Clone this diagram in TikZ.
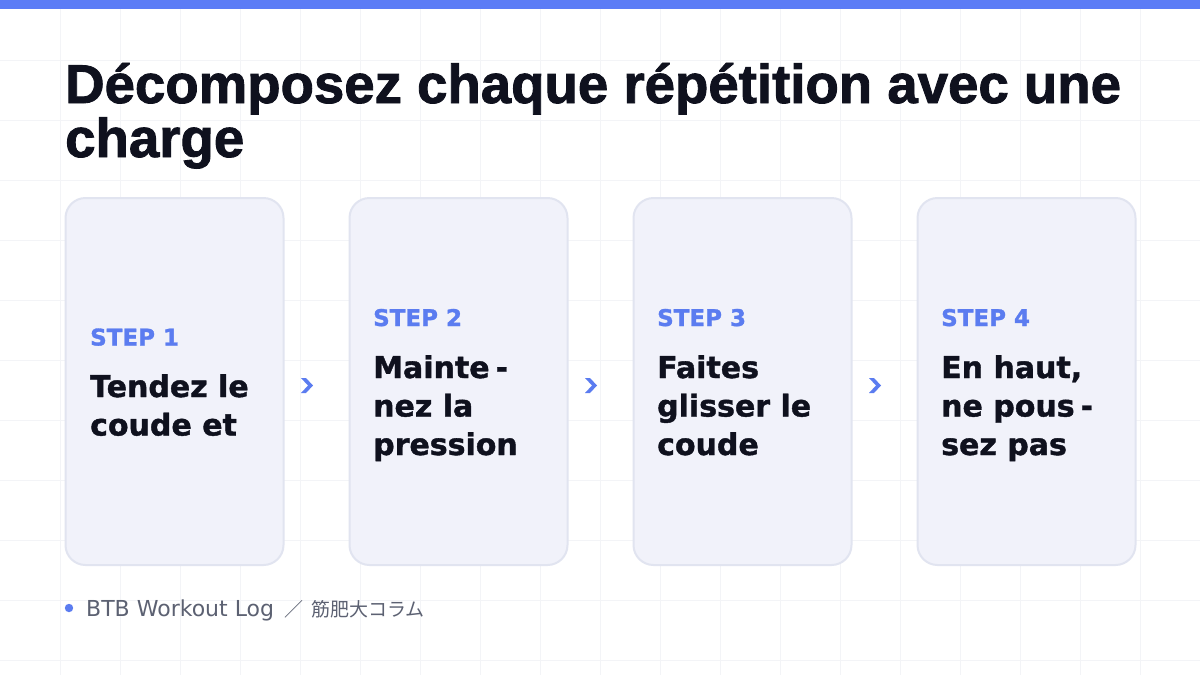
\documentclass[tikz,border=0pt]{standalone}
\usepackage{fontspec}
\setmainfont{DejaVu Sans}
\newfontfamily\titlefont{Liberation Sans}[BoldFeatures={FakeBold=1.6}]
\newfontfamily\bodyfont{DejaVu Sans}[BoldFeatures={FakeBold=1.3}]
\newfontfamily\cjk{Noto Sans CJK JP}
\definecolor{topbar}{HTML}{5B7CF6}
\definecolor{gridc}{HTML}{F3F4F7}
\definecolor{cardfill}{HTML}{F1F2FA}
\definecolor{cardline}{HTML}{E1E4F0}
\definecolor{stepblue}{HTML}{5B7CF0}
\definecolor{ink}{HTML}{0F111E}
\definecolor{footgray}{HTML}{5C6172}
\tikzset{
  gridline/.style={draw=gridc, line width=1pt},
  card/.style={draw=cardline, line width=2pt, fill=cardfill, rounded corners=20pt,
    minimum width=218pt, minimum height=367pt, inner sep=0pt},
  steplabel/.style={anchor=base west, inner sep=0pt, text=stepblue,
    font=\bodyfont\bfseries\fontsize{23}{27}\selectfont},
  bodyline/.style={anchor=base west, inner sep=0pt, text=ink,
    font=\bodyfont\bfseries\fontsize{30}{36}\selectfont},
  titleline/.style={anchor=base west, inner sep=0pt, text=ink,
    font=\titlefont\bfseries\fontsize{54.6}{60}\selectfont},
  chevfill/.style={fill=stepblue, line join=round},
  foot/.style={anchor=base west, inner sep=0pt, text=footgray, font=\fontsize{22}{26}\selectfont},
}
\begin{document}
\begin{tikzpicture}[x=1pt,y=-1pt]
\useasboundingbox (0,0) rectangle (1200,675);
\fill[white] (0,0) rectangle (1200,675);
\foreach \gx in {60,120,...,1140} \draw[gridline] (\gx,0) -- (\gx,675);
\foreach \gy in {60,120,...,660} \draw[gridline] (0,\gy) -- (1200,\gy);
\fill[topbar] (0,0) rectangle (1200,9);
% title
\node[titleline] (t1) at (65,103) {Décomposez chaque répétition avec une};
\node[titleline] (t2) at (65,157) {charge};
% cards
\node[card] (c1) at (174.5,381.5) {};
\node[card] (c2) at (458.5,381.5) {};
\node[card] (c3) at (742.5,381.5) {};
\node[card] (c4) at (1026.5,381.5) {};
% card 1
\node[steplabel] (s1) at (90,345.5) {STEP 1};
\node[bodyline] (b11) at (90,397) {Tendez le};
\node[bodyline] (b12) at (90,435.5) {coude et};
% card 2
\node[steplabel] (s2) at (373,326) {STEP 2};
\node[bodyline] (b21) at (373,378) {Mainte\hspace{6pt}-};
\node[bodyline] (b22) at (373,416.5) {nez la};
\node[bodyline] (b23) at (373,455) {pression};
% card 3
\node[steplabel] (s3) at (657,326) {STEP 3};
\node[bodyline] (b31) at (657,378) {Faites};
\node[bodyline] (b32) at (657,416.5) {glisser le};
\node[bodyline] (b33) at (657,455) {coude};
% card 4
\node[steplabel] (s4) at (941,326) {STEP 4};
\node[bodyline] (b41) at (941,378) {En haut,};
\node[bodyline] (b42) at (941,416.5) {ne pous\hspace{6pt}-};
\node[bodyline] (b43) at (941,455) {sez pas};
% chevrons between cards
\foreach \i/\a/\b in {1/c1/c2, 2/c2/c3, 3/c3/c4} {
  \path (\a.east) -- (\b.west) coordinate[midway, xshift=-9.5pt, yshift=-4pt] (a\i);
  \fill[chevfill] ([shift={(-6,-7.5)}]a\i) -- ([shift={(-1,-7.5)}]a\i) -- ([shift={(6,0)}]a\i)
    -- ([shift={(-1,7.5)}]a\i) -- ([shift={(-6,7.5)}]a\i) -- ([shift={(1,0)}]a\i) -- cycle;
}
% footer
\fill[stepblue] (69,608) circle[radius=4.2pt];
\node[foot] (f1) at (86,616) {BTB Workout Log\hspace{10pt}{\cjk\fontsize{19}{24}\selectfont／\hspace{8pt}筋肥大コラム}};
\end{tikzpicture}
\end{document}
